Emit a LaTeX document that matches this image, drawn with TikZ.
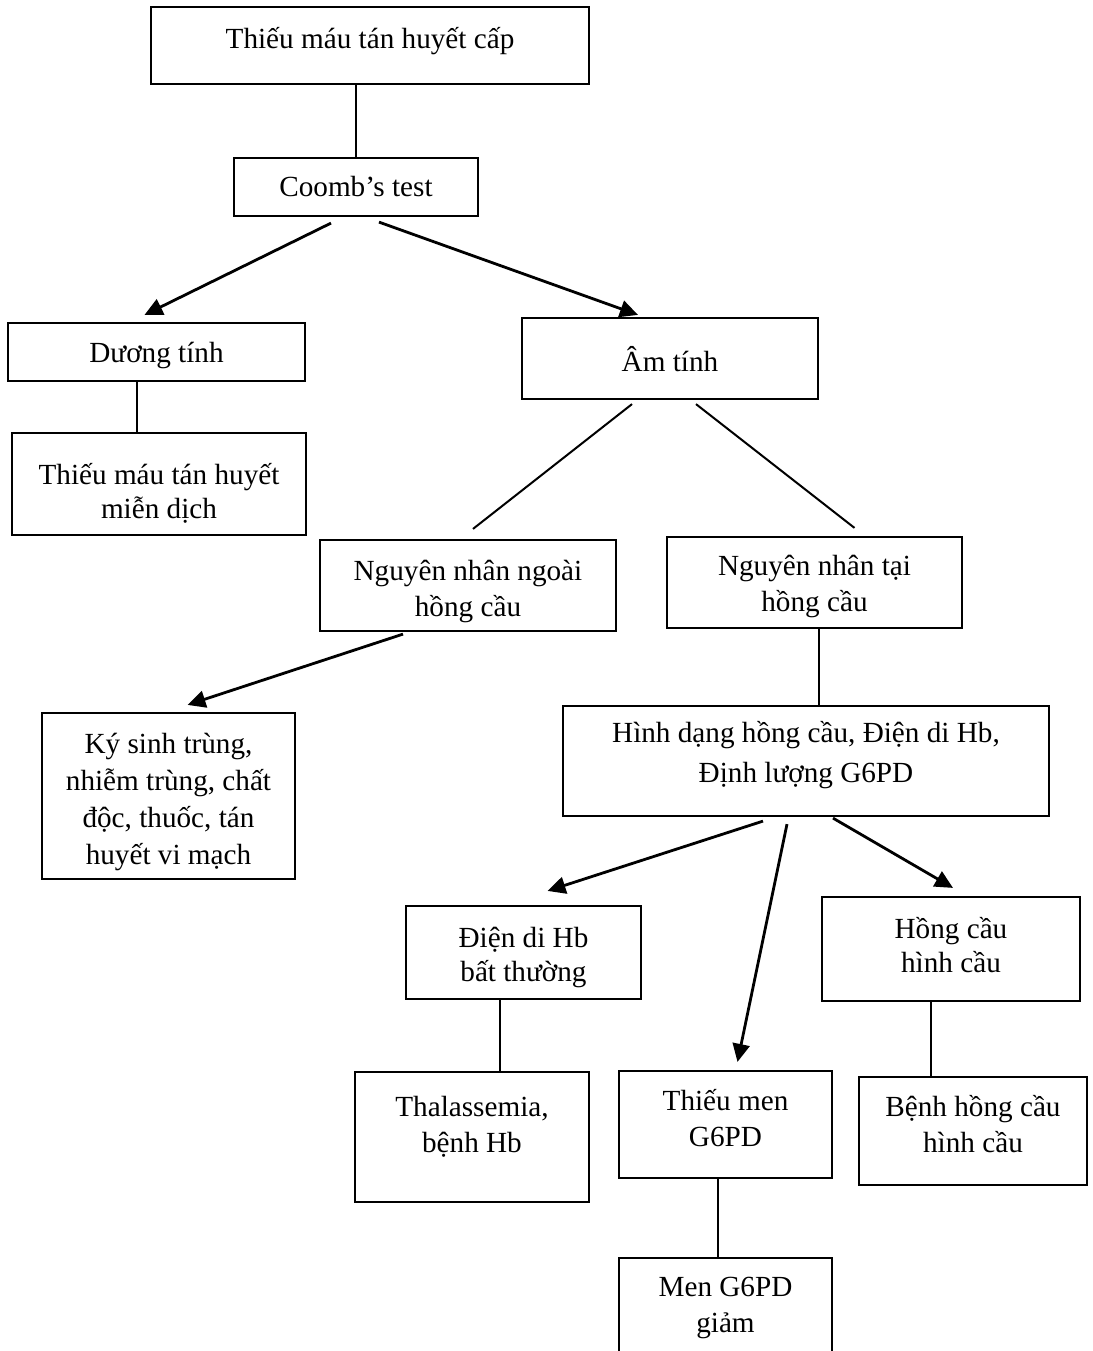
\documentclass[tikz,border=0pt]{standalone}
\usepackage{fontspec}
\setmainfont{Liberation Serif}
\usetikzlibrary{arrows.meta,fit}

% text of a box, first baseline at the anchor
\newcommand{\btext}[1]{\parbox[t]{10cm}{\centering #1}}

\begin{document}
\begin{tikzpicture}[x=0.5pt, y=-0.5pt,
  box/.style={draw, line width=1.1pt, inner sep=0pt},
  lbl/.style={anchor=base, inner sep=0pt, font=\fontsize{14.6}{18}\selectfont},
  link/.style={line width=1pt},
  arr/.style={line width=1.4pt, -{Triangle[length=9pt,width=8.5pt]}}]
  \useasboundingbox (0,0) rectangle (1093,1351);

  % Level 1
  \node[box, fit={(151,7) (589,84)}] (top) {};
  \node[lbl] at ([shift={(0,43)}]top.north) {\btext{Thiếu máu tán huyết cấp}};
  \node[box, fit={(234,158) (478,216)}] (coomb) {};
  \node[lbl] at ([shift={(0,40)}]coomb.north) {\btext{Coomb’s test}};

  % Coomb result
  \node[box, fit={(8,323) (305,381)}] (duong) {};
  \node[lbl] at ([shift={(0,41)}]duong.north) {\btext{Dương tính}};
  \node[box, fit={(522,318) (818,399)}] (am) {};
  \node[lbl] at ([shift={(0,55)}]am.north) {\btext{Âm tính}};
  \node[box, fit={(12,433) (306,535)}] (mien) {};
  \node[lbl] at ([shift={(0,53)}]mien.north) {\btext{Thiếu máu tán huyết\\[-1pt]miễn dịch}};

  % Cause
  \node[box, fit={(320,540) (616,631)}] (ngoai) {};
  \node[lbl] at ([shift={(0,42)}]ngoai.north) {\btext{Nguyên nhân ngoài\\hồng cầu}};
  \node[box, fit={(667,537) (962,628)}] (tai) {};
  \node[lbl] at ([shift={(0,40)}]tai.north) {\btext{Nguyên nhân tại\\hồng cầu}};
  \node[box, fit={(42,713) (295,879)}] (kysinh) {};
  \node[lbl] at ([shift={(0,42)}]kysinh.north) {\btext{Ký sinh trùng,\\[0.5pt]nhiễm trùng, chất\\[0.5pt]độc, thuốc, tán\\[0.5pt]huyết vi mạch}};
  \node[box, fit={(563,706) (1049,816)}] (hinh) {};
  \node[lbl] at ([shift={(0,38)}]hinh.north) {\btext{Hình dạng hồng cầu, Điện di Hb,\\[2pt]Định lượng G6PD}};

  % Tests
  \node[box, fit={(406,906) (641,999)}] (diendi) {};
  \node[lbl] at ([shift={(0,43)}]diendi.north) {\btext{Điện di Hb\\[-1pt]bất thường}};
  \node[box, fit={(822,897) (1080,1001)}] (hccau) {};
  \node[lbl] at ([shift={(0,43)}]hccau.north) {\btext{Hồng cầu\\[-1pt]hình cầu}};
  \node[box, fit={(355,1072) (589,1202)}] (thal) {};
  \node[lbl] at ([shift={(0,46)}]thal.north) {\btext{Thalassemia,\\bệnh Hb}};
  \node[box, fit={(619,1071) (832,1178)}] (thieumen) {};
  \node[lbl] at ([shift={(0,41)}]thieumen.north) {\btext{Thiếu men\\G6PD}};
  \node[box, fit={(859,1077) (1087,1185)}] (benh) {};
  \node[lbl] at ([shift={(0,41)}]benh.north) {\btext{Bệnh hồng cầu\\hình cầu}};
  \node[box, fit={(619,1258) (832,1380)}] (men) {};
  \node[lbl] at ([shift={(0,40)}]men.north) {\btext{Men G6PD\\giảm}};

  % connectors
  \draw[link] (coomb.north |- top.south) -- (coomb.north);
  \draw[arr] ([shift={(-25,6)}]coomb.south) -- ([shift={(-12,-7)}]duong.north);
  \draw[arr] ([shift={(23,5)}]coomb.south) -- ([shift={(-32,-2)}]am.north);
  \draw[link] ([xshift=-10pt]duong.south) -- ([xshift=-10pt]duong.south |- mien.north);
  \draw[link] ([shift={(-38,4)}]am.south) -- ([shift={(5,-10)}]ngoai.north);
  \draw[link] ([shift={(26,4)}]am.south) -- ([shift={(40,-8)}]tai.north);
  \draw[arr] ([shift={(-65,2)}]ngoai.south) -- ([shift={(19,-7)}]kysinh.north);
  \draw[link] ([xshift=2pt]tai.south) -- ([xshift=2pt]tai.south |- hinh.north);
  \draw[arr] ([shift={(-43,4)}]hinh.south) -- ([shift={(24,-14)}]diendi.north);
  \draw[arr] ([shift={(-19,7)}]hinh.south) -- ([shift={(12,-8)}]thieumen.north);
  \draw[arr] ([shift={(27,1)}]hinh.south) -- ([shift={(2,-8)}]hccau.north);
  \draw[link] ([xshift=-12pt]diendi.south) -- ([xshift=-12pt]diendi.south |- thal.north);
  \draw[link] ([xshift=-10pt]hccau.south) -- ([xshift=-10pt]hccau.south |- benh.north);
  \draw[link] ([xshift=-4pt]thieumen.south) -- ([xshift=-4pt]thieumen.south |- men.north);
\end{tikzpicture}
\end{document}
